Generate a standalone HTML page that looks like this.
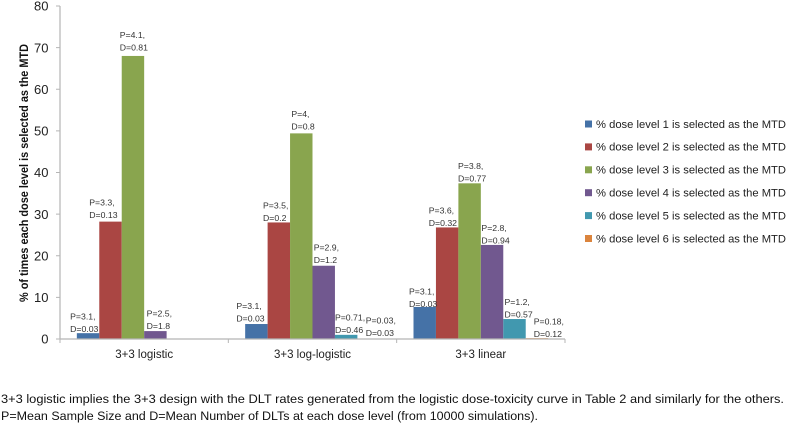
<!DOCTYPE html>
<html lang="en">
<head>
<meta charset="utf-8">
<title>MTD selection chart</title>
<style>
html,body{margin:0;padding:0;background:#fff;width:787px;height:423px;overflow:hidden}
svg{display:block;font-family:"Liberation Sans",sans-serif}
</style>
</head>
<body>
<svg id="chart" width="787" height="423" viewBox="0 0 787 423" xmlns="http://www.w3.org/2000/svg">
  <text transform="translate(28,173) rotate(-90)" text-anchor="middle" font-size="11.5" font-weight="bold" fill="#111" textLength="258" lengthAdjust="spacingAndGlyphs">% of times each dose level is selected as the MTD</text>
  <text x="1" y="403" font-size="12.2" fill="#111" textLength="783" lengthAdjust="spacingAndGlyphs">3+3 logistic implies the 3+3 design with the DLT rates generated from the logistic dose-toxicity curve in Table 2 and similarly for the others.</text>
  <text x="1" y="420" font-size="12.2" fill="#111" textLength="537" lengthAdjust="spacingAndGlyphs">P=Mean Sample Size and D=Mean Number of DLTs at each dose level (from 10000 simulations).</text>
</svg>
<script>
const categories = ['3+3 logistic', '3+3 log-logistic', '3+3 linear'];
const yTicks = [0, 10, 20, 30, 40, 50, 60, 70, 80];
const seriesNames = [
  '% dose level 1 is selected as the MTD',
  '% dose level 2 is selected as the MTD',
  '% dose level 3 is selected as the MTD',
  '% dose level 4 is selected as the MTD',
  '% dose level 5 is selected as the MTD',
  '% dose level 6 is selected as the MTD'
];
const level1 = [1.4, 3.6, 7.7];
const level2 = [28.2, 28, 26.8];
const level3 = [68, 49.4, 37.4];
const level4 = [1.9, 17.6, 22.6];
const level5 = [null, 1, 4.8];
const level6 = [null, 0, 0.2];
const sampleP = [
  ['3.1', '3.1', '3.1'],
  ['3.3', '3.5', '3.6'],
  ['4.1', '4', '3.8'],
  ['2.5', '2.9', '2.8'],
  [null, '0.71', '1.2'],
  [null, '0.03', '0.18']
];
const dltD = [
  ['0.03', '0.03', '0.03'],
  ['0.13', '0.2', '0.32'],
  ['0.81', '0.8', '0.77'],
  ['1.8', '1.2', '0.94'],
  [null, '0.46', '0.57'],
  [null, '0.03', '0.12']
];

const series = [level1, level2, level3, level4, level5, level6];
const colors = ['#4572A7', '#AA4643', '#89A54E', '#71588F', '#4198AF', '#DB843D'];
const plot = { left: 60, right: 565, top: 6, bottom: 339, max: 80 };
// hand-placed label nudges relative to each bar's top-left corner (series, then group)
const nudgeX = [[-6.7, -8.8, -4.5], [-10, -4.6, -7.2], [-2, 1.3, -0.4], [2.5, 1.2, 0.6], [0, 0, 1.2], [0, 8.3, 8]];
const nudgeY = [[-1.2, -2.3, 0], [-3.6, -1.6, -1.6], [-5.3, -4, -1.6], [-2, -2.7, -1.6], [0, -1.7, -1.7], [0, -3, -1]];

const NS = 'http://www.w3.org/2000/svg';
const svg = document.getElementById('chart');
const yScale = v => plot.bottom - (v / plot.max) * (plot.bottom - plot.top);
const groupWidth = (plot.right - plot.left) / categories.length;
const barWidth = groupWidth / (series.length + 1.5);
const xScale = (g, s) => plot.left + g * groupWidth + 0.75 * barWidth + s * barWidth;

function make(tag, attrs, text) {
  const el = document.createElementNS(NS, tag);
  for (const k in attrs) el.setAttribute(k, attrs[k]);
  if (text !== undefined) el.textContent = text;
  svg.appendChild(el);
  return el;
}

// bars first so axes and labels sit on top
series.forEach((values, s) => {
  values.forEach((v, g) => {
    if (v === null) return;
    const top = yScale(v);
    const bar = make('rect', { x: xScale(g, s), y: top, width: barWidth, height: plot.bottom - top, fill: colors[s] });
    
    
  });
});

// y axis
const yLine = make('line', { x1: plot.left, y1: plot.top, x2: plot.left, y2: plot.bottom, stroke: '#b5b5b5', 'stroke-width': 1.2 });


yTicks.forEach(t => {
  const y = yScale(t);
  const tick = make('line', { x1: plot.left - 4, y1: y, x2: plot.left, y2: y, stroke: '#b5b5b5', 'stroke-width': 1 });
  
  
  const label = make('text', { x: 48.5, y: y + 4.7, 'text-anchor': 'end', 'font-size': 13, fill: '#222' }, String(t));
  
  
});

// x axis
const xLine = make('line', { x1: plot.left, y1: plot.bottom, x2: plot.right, y2: plot.bottom, stroke: '#b5b5b5', 'stroke-width': 1.2 });


for (let i = 0; i <= categories.length; i++) {
  const x = plot.left + i * groupWidth;
  const tick = make('line', { x1: x, y1: plot.bottom, x2: x, y2: plot.bottom + 4, stroke: '#b5b5b5', 'stroke-width': 1 });
  
  
}
categories.forEach((c, g) => {
  const label = make('text', { x: plot.left + (g + 0.5) * groupWidth, y: 358, 'text-anchor': 'middle', 'font-size': 11.5, fill: '#222' }, c);
  
  
});

// data labels
series.forEach((values, s) => {
  values.forEach((v, g) => {
    if (v === null || sampleP[s][g] === null) return;
    const x = xScale(g, s) + nudgeX[s][g];
    const base = yScale(v) + nudgeY[s][g];
    const p = make('text', { x: x, y: base - 12.5, 'font-size': 8.7, fill: '#333' }, 'P=' + sampleP[s][g] + ',');
    
    
    const d = make('text', { x: x, y: base, 'font-size': 8.7, fill: '#333' }, 'D=' + dltD[s][g]);
    
    
  });
});

// legend
seriesNames.forEach((name, s) => {
  const cy = 124 + s * 22.9;
  const swatch = make('rect', { x: 585, y: cy - 3.5, width: 7, height: 7, fill: colors[s] });
  
  
  const label = make('text', { x: 596, y: cy + 3.8, 'font-size': 10.8, fill: '#222', textLength: 190, lengthAdjust: 'spacingAndGlyphs' }, name);
  
  
});
</script>
</body>
</html>
